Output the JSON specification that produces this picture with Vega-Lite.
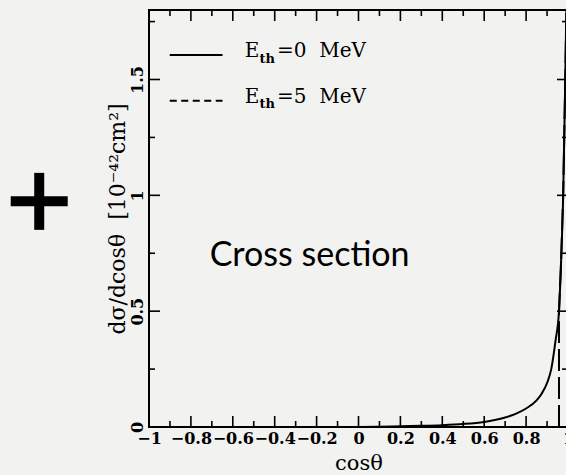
{
  "$schema": "https://vega.github.io/schema/vega-lite/v6.json",
  "width": 419,
  "height": 417,
  "autosize": {"type": "none"},
  "padding": {"left": 149, "top": 10, "right": -2, "bottom": 48},
  "background": "#f2f2f0",
  "config": {
    "view": {"stroke": "black", "strokeWidth": 2}
  },
  "datasets": {
    "curve0": [
      {"x": 0.0, "y": 0.0},
      {"x": 0.1, "y": 0.001},
      {"x": 0.2, "y": 0.003},
      {"x": 0.3, "y": 0.005},
      {"x": 0.4, "y": 0.008},
      {"x": 0.5, "y": 0.013},
      {"x": 0.6, "y": 0.022},
      {"x": 0.65, "y": 0.03},
      {"x": 0.7, "y": 0.041},
      {"x": 0.75, "y": 0.057},
      {"x": 0.8, "y": 0.08},
      {"x": 0.85, "y": 0.115},
      {"x": 0.875, "y": 0.145},
      {"x": 0.9, "y": 0.19},
      {"x": 0.92, "y": 0.25},
      {"x": 0.94, "y": 0.37},
      {"x": 0.957, "y": 0.5},
      {"x": 0.966, "y": 0.69},
      {"x": 0.977, "y": 1.0},
      {"x": 0.987, "y": 1.5},
      {"x": 0.993, "y": 1.85}
    ],
    "curve5": [
      {"i": 0, "x": 0.957, "y": 0.0},
      {"i": 1, "x": 0.957, "y": 0.5},
      {"i": 2, "x": 0.966, "y": 0.69},
      {"i": 3, "x": 0.977, "y": 1.0},
      {"i": 4, "x": 0.987, "y": 1.5},
      {"i": 5, "x": 0.993, "y": 1.85}
    ],
    "legendLines": [
      {"series": "E0", "x": -0.901, "y": 1.606},
      {"series": "E0", "x": -0.649, "y": 1.606},
      {"series": "E5", "x": -0.901, "y": 1.408},
      {"series": "E5", "x": -0.649, "y": 1.408}
    ],
    "legendMain": [
      {"x": -0.543, "y": 1.596, "label": "E"},
      {"x": -0.389, "y": 1.596, "label": "=0\u00a0\u00a0MeV"},
      {"x": -0.543, "y": 1.398, "label": "E"},
      {"x": -0.389, "y": 1.398, "label": "=5\u00a0\u00a0MeV"}
    ],
    "legendSub": [
      {"x": -0.473, "y": 1.572, "label": "th"},
      {"x": -0.473, "y": 1.376, "label": "th"}
    ],
    "note": [
      {"x": -0.71, "y": 0.695, "label": "Cross section"}
    ],
    "plus": [
      {"x": -1.66, "x2": -1.388, "y": 0.974, "y2": 0.974},
      {"x": -1.524, "x2": -1.524, "y": 1.097, "y2": 0.851}
    ],
    "frameTickMarks": [
      {"x": -0.8, "x2": -0.8, "y": 0, "y2": 0.0475},
      {"x": -0.6, "x2": -0.6, "y": 0, "y2": 0.0475},
      {"x": -0.4, "x2": -0.4, "y": 0, "y2": 0.0475},
      {"x": -0.2, "x2": -0.2, "y": 0, "y2": 0.0475},
      {"x": 0, "x2": 0, "y": 0, "y2": 0.0475},
      {"x": 0.2, "x2": 0.2, "y": 0, "y2": 0.0475},
      {"x": 0.4, "x2": 0.4, "y": 0, "y2": 0.0475},
      {"x": 0.6, "x2": 0.6, "y": 0, "y2": 0.0475},
      {"x": 0.8, "x2": 0.8, "y": 0, "y2": 0.0475},
      {"x": -0.9, "x2": -0.9, "y": 0, "y2": 0.026},
      {"x": -0.7, "x2": -0.7, "y": 0, "y2": 0.026},
      {"x": -0.5, "x2": -0.5, "y": 0, "y2": 0.026},
      {"x": -0.3, "x2": -0.3, "y": 0, "y2": 0.026},
      {"x": -0.1, "x2": -0.1, "y": 0, "y2": 0.026},
      {"x": 0.1, "x2": 0.1, "y": 0, "y2": 0.026},
      {"x": 0.3, "x2": 0.3, "y": 0, "y2": 0.026},
      {"x": 0.5, "x2": 0.5, "y": 0, "y2": 0.026},
      {"x": 0.7, "x2": 0.7, "y": 0, "y2": 0.026},
      {"x": 0.9, "x2": 0.9, "y": 0, "y2": 0.026},
      {"x": -0.8, "x2": -0.8, "y": 1.8, "y2": 1.7525},
      {"x": -0.6, "x2": -0.6, "y": 1.8, "y2": 1.7525},
      {"x": -0.4, "x2": -0.4, "y": 1.8, "y2": 1.7525},
      {"x": -0.2, "x2": -0.2, "y": 1.8, "y2": 1.7525},
      {"x": 0, "x2": 0, "y": 1.8, "y2": 1.7525},
      {"x": 0.2, "x2": 0.2, "y": 1.8, "y2": 1.7525},
      {"x": 0.4, "x2": 0.4, "y": 1.8, "y2": 1.7525},
      {"x": 0.6, "x2": 0.6, "y": 1.8, "y2": 1.7525},
      {"x": 0.8, "x2": 0.8, "y": 1.8, "y2": 1.7525},
      {"x": -0.9, "x2": -0.9, "y": 1.8, "y2": 1.774},
      {"x": -0.7, "x2": -0.7, "y": 1.8, "y2": 1.774},
      {"x": -0.5, "x2": -0.5, "y": 1.8, "y2": 1.774},
      {"x": -0.3, "x2": -0.3, "y": 1.8, "y2": 1.774},
      {"x": -0.1, "x2": -0.1, "y": 1.8, "y2": 1.774},
      {"x": 0.1, "x2": 0.1, "y": 1.8, "y2": 1.774},
      {"x": 0.3, "x2": 0.3, "y": 1.8, "y2": 1.774},
      {"x": 0.5, "x2": 0.5, "y": 1.8, "y2": 1.774},
      {"x": 0.7, "x2": 0.7, "y": 1.8, "y2": 1.774},
      {"x": 0.9, "x2": 0.9, "y": 1.8, "y2": 1.774},
      {"x": -1, "x2": -0.9475, "y": 0.5, "y2": 0.5},
      {"x": -1, "x2": -0.9475, "y": 1.0, "y2": 1.0},
      {"x": -1, "x2": -0.9475, "y": 1.5, "y2": 1.5},
      {"x": -1, "x2": -0.9714, "y": 0.25, "y2": 0.25},
      {"x": -1, "x2": -0.9714, "y": 0.75, "y2": 0.75},
      {"x": -1, "x2": -0.9714, "y": 1.25, "y2": 1.25},
      {"x": -1, "x2": -0.9714, "y": 1.75, "y2": 1.75},
      {"x": 1, "x2": 0.9475, "y": 0.5, "y2": 0.5},
      {"x": 1, "x2": 0.9475, "y": 1.0, "y2": 1.0},
      {"x": 1, "x2": 0.9475, "y": 1.5, "y2": 1.5},
      {"x": 1, "x2": 0.9714, "y": 0.25, "y2": 0.25},
      {"x": 1, "x2": 0.9714, "y": 0.75, "y2": 0.75},
      {"x": 1, "x2": 0.9714, "y": 1.25, "y2": 1.25},
      {"x": 1, "x2": 0.9714, "y": 1.75, "y2": 1.75}
    ]
  },
  "resolve": {"axis": {"x": "independent", "y": "independent"}},
  "layer": [
    {
      "data": {"name": "curve0"},
      "mark": {"type": "line", "color": "black", "strokeWidth": 2, "clip": true, "interpolate": "monotone"},
      "encoding": {
        "x": {"field": "x", "type": "quantitative", "scale": {"domain": [-1, 1], "nice": false, "zero": false},
          "axis": {"orient": "bottom", "values": [-1, -0.8, -0.6, -0.4, -0.2, 0, 0.2, 0.4, 0.6, 0.8, 1], "ticks": false, "domain": false, "grid": false, "format": "~g",
            "labelFont": "DejaVu Serif", "labelFontSize": 16, "labelFontWeight": "bold", "labelColor": "black", "labelPadding": 3, "labelFlush": false, "labelOverlap": false, "labelBaseline": "top",
            "title": "cosθ", "titleFont": "DejaVu Serif", "titleFontSize": 21, "titleFontWeight": "normal", "titleColor": "black", "titlePadding": 6}},
        "y": {"field": "y", "type": "quantitative", "scale": {"domain": [0, 1.8], "nice": false, "zero": false},
          "axis": {"orient": "left", "values": [0, 0.5, 1, 1.5], "ticks": false, "domain": false, "grid": false, "format": "~g",
            "labelFont": "DejaVu Serif", "labelFontSize": 16, "labelFontWeight": "bold", "labelColor": "black", "labelPadding": 7, "labelAngle": -90, "labelAlign": "center", "labelBaseline": "alphabetic", "labelFlush": false, "labelOverlap": false,
            "title": "dσ/dcosθ\u00a0\u00a0[10⁻⁴²cm²]", "titleFont": "DejaVu Serif", "titleFontSize": 22, "titleFontWeight": "normal", "titleColor": "black", "titleBaseline": "alphabetic", "titlePadding": 5}}
      }
    },
    {
      "data": {"name": "curve5"},
      "mark": {"type": "line", "color": "black", "strokeWidth": 2, "clip": true, "strokeDash": [22, 6]},
      "encoding": {
        "order": {"field": "i", "type": "quantitative"},
        "x": {"field": "x", "type": "quantitative", "scale": {"domain": [-1, 1], "nice": false, "zero": false}, "axis": null},
        "y": {"field": "y", "type": "quantitative", "scale": {"domain": [0, 1.8], "nice": false, "zero": false}, "axis": null}
      }
    },
    {
      "data": {"name": "legendLines"},
      "transform": [{"filter": "datum.series === 'E0'"}],
      "mark": {"type": "line", "color": "black", "strokeWidth": 2},
      "encoding": {
        "x": {"field": "x", "type": "quantitative", "scale": {"domain": [-1, 1], "nice": false, "zero": false}, "axis": null},
        "y": {"field": "y", "type": "quantitative", "scale": {"domain": [0, 1.8], "nice": false, "zero": false}, "axis": null}
      }
    },
    {
      "data": {"name": "legendLines"},
      "transform": [{"filter": "datum.series === 'E5'"}],
      "mark": {"type": "line", "color": "black", "strokeWidth": 2, "strokeDash": [7, 4.5]},
      "encoding": {
        "x": {"field": "x", "type": "quantitative", "scale": {"domain": [-1, 1], "nice": false, "zero": false}, "axis": null},
        "y": {"field": "y", "type": "quantitative", "scale": {"domain": [0, 1.8], "nice": false, "zero": false}, "axis": null}
      }
    },
    {
      "data": {"name": "note"},
      "mark": {"type": "text", "font": "Lato", "fontSize": 34, "align": "left", "baseline": "alphabetic", "color": "black"},
      "encoding": {
        "text": {"field": "label"},
        "x": {"field": "x", "type": "quantitative", "scale": {"domain": [-1, 1], "nice": false, "zero": false}, "axis": null},
        "y": {"field": "y", "type": "quantitative", "scale": {"domain": [0, 1.8], "nice": false, "zero": false}, "axis": null}
      }
    },
    {
      "data": {"name": "legendMain"},
      "mark": {"type": "text", "font": "DejaVu Serif", "fontSize": 20, "align": "left", "baseline": "alphabetic", "color": "black"},
      "encoding": {
        "text": {"field": "label"},
        "x": {"field": "x", "type": "quantitative", "scale": {"domain": [-1, 1], "nice": false, "zero": false}, "axis": null},
        "y": {"field": "y", "type": "quantitative", "scale": {"domain": [0, 1.8], "nice": false, "zero": false}, "axis": null}
      }
    },
    {
      "data": {"name": "legendSub"},
      "mark": {"type": "text", "font": "DejaVu Serif", "fontSize": 13, "fontWeight": "bold", "align": "left", "baseline": "alphabetic", "color": "black"},
      "encoding": {
        "text": {"field": "label"},
        "x": {"field": "x", "type": "quantitative", "scale": {"domain": [-1, 1], "nice": false, "zero": false}, "axis": null},
        "y": {"field": "y", "type": "quantitative", "scale": {"domain": [0, 1.8], "nice": false, "zero": false}, "axis": null}
      }
    },
    {
      "data": {"name": "plus"},
      "mark": {"type": "rule", "color": "black", "strokeWidth": 10, "strokeCap": "butt"},
      "encoding": {
        "x": {"field": "x", "type": "quantitative", "scale": {"domain": [-1, 1], "nice": false, "zero": false}, "axis": null},
        "x2": {"field": "x2"},
        "y": {"field": "y", "type": "quantitative", "scale": {"domain": [0, 1.8], "nice": false, "zero": false}, "axis": null},
        "y2": {"field": "y2"}
      }
    },
    {
      "data": {"name": "frameTickMarks"},
      "mark": {"type": "rule", "color": "black", "strokeWidth": 1.6, "strokeCap": "butt"},
      "encoding": {
        "x": {"field": "x", "type": "quantitative", "scale": {"domain": [-1, 1], "nice": false, "zero": false}, "axis": null},
        "x2": {"field": "x2"},
        "y": {"field": "y", "type": "quantitative", "scale": {"domain": [0, 1.8], "nice": false, "zero": false}, "axis": null},
        "y2": {"field": "y2"}
      }
    }
  ]
}
